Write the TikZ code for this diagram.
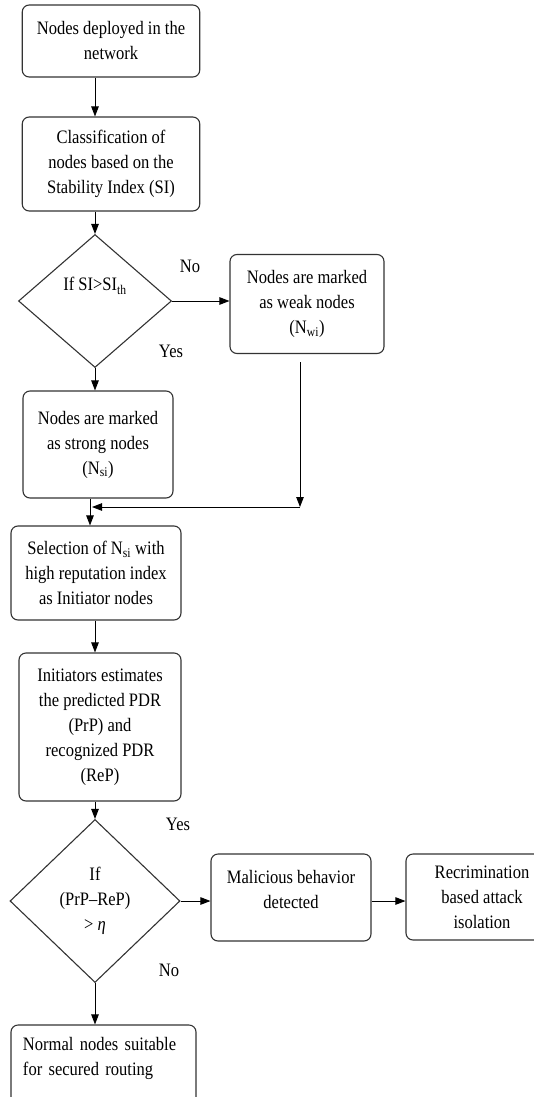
\documentclass[tikz,border=0pt]{standalone}
\usepackage{fontspec}
\setmainfont{Liberation Serif}[FakeStretch=0.87]
\usetikzlibrary{shapes.geometric,arrows.meta}
\begin{document}
\begin{tikzpicture}[x=1pt,y=-1pt,
  font=\fontsize{19}{25}\selectfont,
  box/.style={draw=black!80, line width=1.1pt, rounded corners=7pt, align=center, inner sep=0pt},
  dec/.style={draw=black!80, line width=1.1pt, shape=diamond, inner sep=0pt, align=center},
  arr/.style={line width=0.9pt, -{Triangle[length=10pt,width=7.5pt]}},
  lbl/.style={inner sep=0pt}]
\useasboundingbox (0,0) rectangle (534,1097);
\clip (0,0) rectangle (534,1097);

\node[box, minimum width=177.5pt, minimum height=72pt] (b1) at (111,41) {Nodes deployed in the\\network};
\node[box, minimum width=177.5pt, minimum height=94pt] (b2) at (111,164) {Classification of\\nodes based on the\\Stability Index (SI)};
\node[dec, minimum width=153pt, minimum height=133pt,
      label={[lbl, yshift=15pt]center:If SI>SI\textsubscript{th}}] (d1) at (95,301) {};
\node[box, minimum width=154pt, minimum height=99pt] (weak) at (307,304) {Nodes are marked\\as weak nodes\\(N\textsubscript{wi})};
\node[box, minimum width=150pt, minimum height=107pt] (strong) at (98,444.5) {Nodes are marked\\as strong nodes\\(N\textsubscript{si})};
\node[box, minimum width=170pt, minimum height=94pt] (sel) at (96,573) {Selection of N\textsubscript{si} with\\high reputation index\\as Initiator nodes};
\node[box, minimum width=162pt, minimum height=148pt] (init) at (100,727) {Initiators estimates\\the predicted PDR\\(PrP) and\\recognized PDR\\(ReP)};
\node[dec, minimum width=170pt, minimum height=163pt] (d2) at (95,901) {If\\(PrP–ReP)\\> \textit{η}};
\node[box, minimum width=160pt, minimum height=87pt, text height=38pt, text depth=17pt] (mal) at (291,897.5) {Malicious behavior\\detected};
\node[box, minimum width=152pt, minimum height=86pt] (rec) at (482,897) {Recrimination\\based attack\\isolation};
\node[box, minimum width=185pt, minimum height=90pt, align=left, text width=161pt, inner xsep=12pt,
      text height=13pt, text depth=52pt] (normal) at (103.5,1070) {Normal nodes suitable\\for secured routing};

\node[lbl] (no1) at (190,266) {No};
\node[lbl] (yes1) at (171,351) {Yes};
\node[lbl] (yes2) at (178,824) {Yes};
\node[lbl] (no2) at (169,970) {No};

\coordinate (col) at (95,0);
\coordinate (sx) at (90,0);
\coordinate (ws) at (300,362);
\coordinate (jw) at (300,507);
\coordinate (jm) at (92,507);

\draw[arr] (b1.south -| col) -- (b2.north -| col);
\draw[arr] (b2.south -| col) -- (d1.north);
\draw[arr] (d1.east) -- (weak.west |- d1.east);
\draw[arr] (d1.south) -- (strong.north -| col);
\draw[arr] (ws) -- (jw);
\draw[arr] (jw) -- (jm);
\draw[arr] (strong.south -| sx) -- (sel.north -| sx);
\draw[arr] (sel.south -| col) -- (init.north -| col);
\draw[arr] (init.south -| col) -- (d2.north);
\draw[arr] (d2.east) -- (mal.west |- d2.east);
\draw[arr] (mal.east |- d2.east) -- (rec.west |- d2.east);
\draw[arr] (d2.south) -- (normal.north -| col);
\end{tikzpicture}
\end{document}
